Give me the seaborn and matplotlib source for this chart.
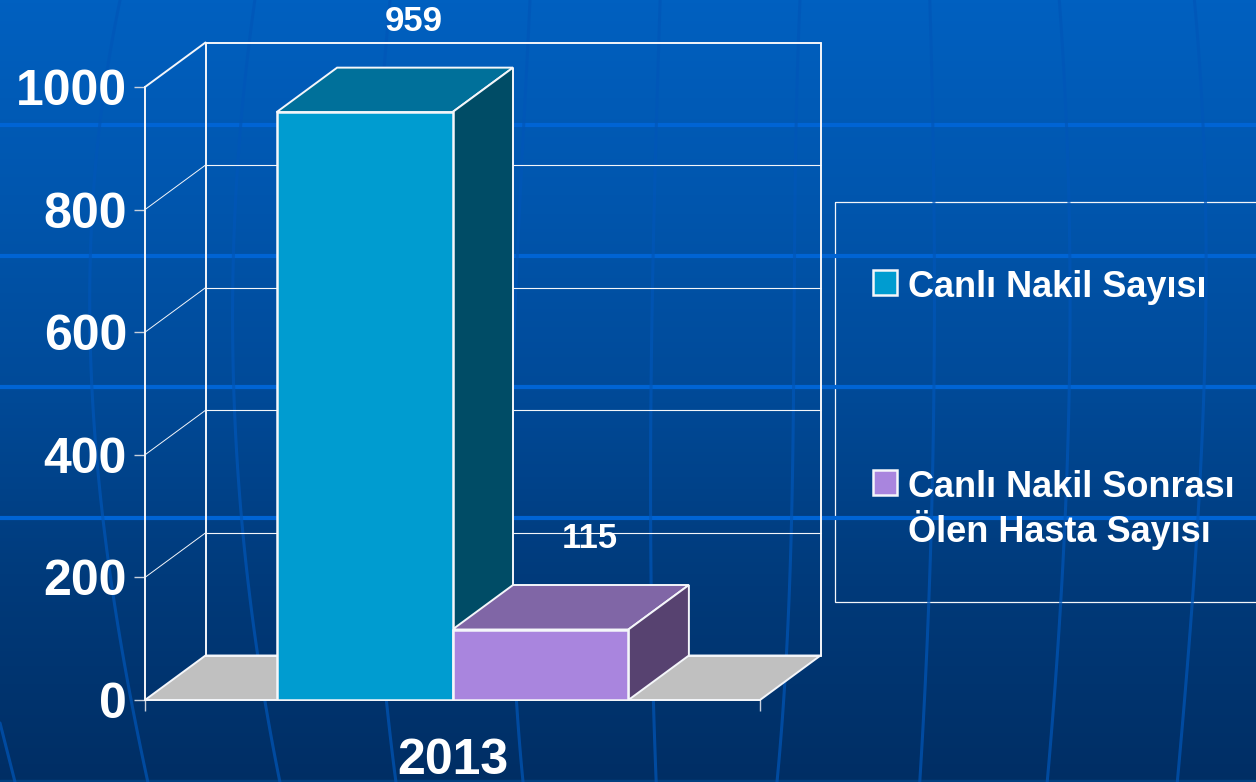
import numpy as np
import pandas as pd
import seaborn as sns
import matplotlib.pyplot as plt
from matplotlib.colors import LinearSegmentedColormap
from matplotlib.patches import Polygon, Rectangle

years = ["2013"]
series_names = ["Canlı Nakil Sayısı", "Canlı Nakil Sonrası\nÖlen Hasta Sayısı"]
series_values = [959, 115]
y_ticks = [0, 200, 400, 600, 800, 1000]
front_colors = ["#009cd0", "#a985de"]
top_colors = ["#00709a", "#8066a6"]
side_colors = ["#004c66", "#574270"]

W, H = 1256, 782
DX, DY = 60.5, 44.5  # depth of the fake 3d box, in pixels
WHITE = "#f4f6fa"

sns.set_theme(style="white")
plt.rcParams["font.family"] = ["Liberation Sans", "DejaVu Sans"]
plt.rcParams["font.weight"] = "bold"

fig = plt.figure(figsize=(W / 100, H / 100), dpi=100)

# slide background, y axis runs in image pixels
bg = fig.add_axes([0, 0, 1, 1], zorder=-1)
cmap = LinearSegmentedColormap.from_list("slide", ["#0060c0", "#0056ae", "#004a98", "#003a7a", "#002e64"])
bg.imshow(np.linspace(0, 1, 256)[:, None], aspect="auto", cmap=cmap, extent=[0, W, H, 0])
for y in [125, 256, 387, 518]:
    bg.plot([0, W], [y, y], color="#0064d4", lw=3)
bg.plot([0, W], [780.5, 780.5], color="#004080", lw=2.5)
curves = [
    [(120, 0), (100, 130), (88, 260), (95, 400), (107, 560), (148, 782)],
    [(255, 0), (240, 130), (233, 260), (235, 400), (245, 560), (280, 782)],
    [(390, 0), (380, 130), (372, 260), (372, 400), (375, 560), (396, 782)],
    [(530, 0), (520, 200), (512, 400), (512, 600), (523, 782)],
    [(660, 0), (655, 200), (650, 400), (652, 600), (656, 782)],
    [(800, 0), (795, 200), (792, 500), (777, 782)],
    [(930, 0), (933, 190), (935, 400), (928, 600), (920, 782)],
    [(1060, 0), (1066, 190), (1073, 400), (1058, 600), (1048, 782)],
    [(1195, 0), (1203, 190), (1207, 400), (1190, 600), (1178, 782)],
]
for c in curves:
    xs, ys = zip(*c)
    fit = np.polyfit(ys, xs, 3)
    yy = np.linspace(0, H, 120)
    bg.plot(np.polyval(fit, yy), yy, color="#0056b8", lw=2.2, alpha=0.7)
bg.plot([0, 15], [723, 782], color="#0056b8", lw=2.2, alpha=0.7)
bg.add_patch(Rectangle((834.5, 202), 500, 400, fill=False, ec=WHITE, lw=0.9))
bg.set_xlim(0, W)
bg.set_ylim(H, 0)
bg.axis("off")

# main axes: front plane of the box
ax = fig.add_axes([145 / W, 1 - 700 / H, 615 / W, 613 / H], zorder=1)
ax.patch.set_alpha(0)

df = pd.DataFrame({
    "year": years * len(series_names),
    "series": series_names,
    "value": series_values,
})
sns.barplot(data=df, x="year", y="value", hue="series", hue_order=series_names,
            palette=front_colors, width=0.572, gap=0, dodge=True, saturation=1,
            edgecolor=WHITE, linewidth=1.8, zorder=5, ax=ax)
ax.set_xlim(-0.5, 0.5)
ax.set_ylim(0, 1000)
ax.set_xlabel("")
ax.set_ylabel("")
ax.set_yticks(y_ticks)
ax.set_xticks([-0.5, 0.5], minor=True)

ax.tick_params(axis="y", which="major", left=True, length=8, width=1, color="#c8d0dc",
               labelsize=36, labelcolor="white", pad=5)
ax.tick_params(axis="x", which="major", bottom=False, labelsize=36, labelcolor="white", pad=21)
ax.tick_params(axis="x", which="minor", bottom=True, length=8, width=1, color="#c8d0dc")
for s in ["top", "right"]:
    ax.spines[s].set_visible(False)
for s in ["left", "bottom"]:
    ax.spines[s].set_color(WHITE)
    ax.spines[s].set_linewidth(1.4)
    ax.spines[s].set_zorder(2)


def px(x, y):
    return ax.transData.transform((x, y))


def poly(points, **kw):
    ax.add_patch(Polygon(points, closed=True, transform=None, clip_on=False, **kw))


# floor
a, b = px(-0.5, 0), px(0.5, 0)
d = np.array([DX, DY])
poly([a, b, b + d, a + d], fc="#c0c0c0", ec=WHITE, lw=1.4, zorder=1)

# walls and gridlines
for v in y_ticks:
    p = px(-0.5, v)
    if v > 0:
        ax.plot(*np.c_[p, p + d], transform=None, color=WHITE, lw=1.4 if v == 1000 else 0.7,
                clip_on=False, zorder=1.5)
    q = px(0.5, v)
    ax.plot(*np.c_[p + d, q + d], transform=None, color=WHITE, lw=1.4 if v in (0, 1000) else 0.8,
            clip_on=False, zorder=1.5)
for x in [-0.5, 0.5]:
    p, q = px(x, 0) + d, px(x, 1000) + d
    ax.plot(*np.c_[p, q], transform=None, color=WHITE, lw=1.4, clip_on=False, zorder=1.5)

# depth faces of the bars, back to front
bars = [c[0] for c in ax.containers]
for bar, top, side, val in zip(bars, top_colors, side_colors, series_values):
    x0, x1 = bar.get_x(), bar.get_x() + bar.get_width()
    p0, p1, p2 = px(x0, val), px(x1, val), px(x1, 0)
    poly([p0, p1, p1 + d, p0 + d], fc=top, ec=WHITE, lw=1.4, zorder=4)
    poly([p1, p2, p2 + d, p1 + d], fc=side, ec=WHITE, lw=1.4, zorder=4)
    ax.annotate(str(val), ((x0 + x1) / 2, val), xytext=(49, 91), textcoords="offset pixels",
                ha="center", va="center", fontsize=25, color="white",
                annotation_clip=False, zorder=6)

handles, labels = ax.get_legend_handles_labels()
ax.get_legend().remove()
leg = fig.legend(handles, labels, loc="upper left", bbox_to_anchor=(873 / W, 1 - 270 / H),
                 frameon=False, fontsize=26, labelcolor="white", handlelength=0.66,
                 handleheight=0.66, handletextpad=0.3, labelspacing=4.56, borderpad=0,
                 borderaxespad=0)
for t in leg.get_texts():
    t.set_linespacing(1.17)
# marker of the two line entry sits on its first line
for patch, shift in zip(leg.legend_handles, [1.4, 20.3]):
    patch.set_y(patch.get_y() + shift)

fig.savefig("out.png", dpi=100)
